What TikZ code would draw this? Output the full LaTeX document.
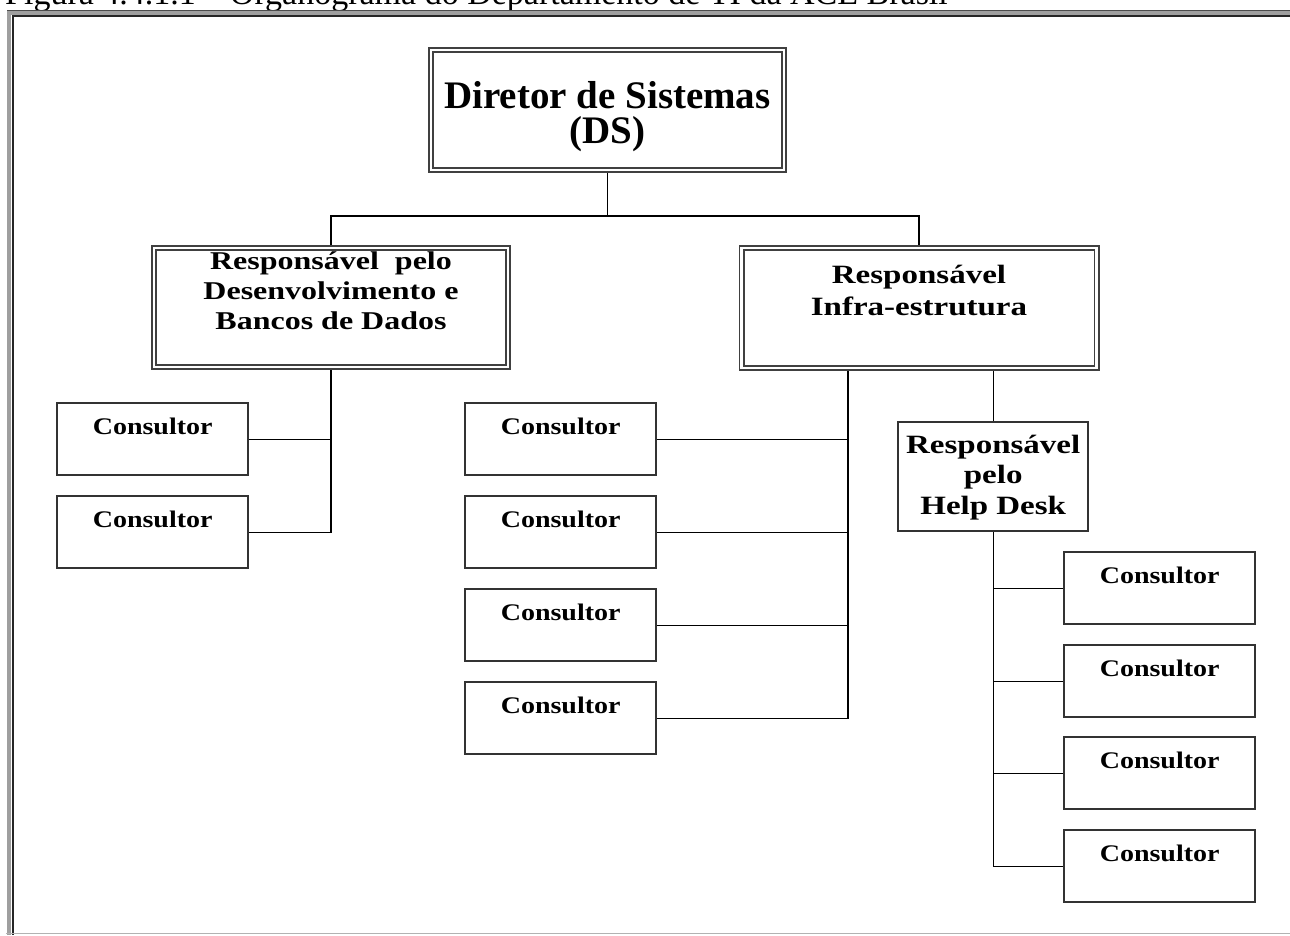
\documentclass[tikz,border=0pt]{standalone}
\usepackage{graphicx}
\usepackage{fontspec}
\setmainfont{Liberation Serif}

% lines of a box, squeezed a little in height
\newcommand{\boxlines}[2]{\scalebox{1}[#1]{\begin{tabular}[t]{@{}c@{}}#2\end{tabular}}}
\newcommand{\cons}{\scalebox{1}[0.85]{Consultor}}

\tikzset{
 topbox/.style={draw=black!75, double=white, double distance=2.4pt, line width=1.8pt,
   inner sep=0pt, outer sep=3pt, anchor=north west, minimum height=0pt},
 subbox/.style={draw=black!80, line width=2.4pt, inner sep=0pt, anchor=north west, minimum height=0pt},
 consbox/.style={subbox, minimum width=191pt, text height=31pt, text depth=41pt,
   font=\bfseries\fontsize{28}{30}\selectfont},
 link/.style={draw=black, line width=1.4pt}
}

\begin{document}
\begin{tikzpicture}[x=1pt,y=-1pt]
 \useasboundingbox (0,0) rectangle (1290,935);
 \clip (0,0) rectangle (1290,935);

 % page frame and title
 \node[anchor=base west, inner sep=0pt, font=\fontsize{34}{40}\selectfont] (title) at (5,4)
   {Figura 4.4.1.1 – Organograma do Departamento de TI da ACE Brasil};
 \draw [gray!75, line width=4pt] (8.5,935) -- (8.5,13) -- (1290,13);
 \draw [black!85, line width=1.3pt] (13,935) -- (13,16) -- (1290,16);
 \draw [black!70, line width=1pt] (1290,10.5) -- (6.5,10.5);
 \draw [gray!60, line width=1pt] (6,933.5) -- (1290,933.5);

 % heads
 \node[topbox, minimum width=353pt, text height=58pt, text depth=62pt,
   font=\bfseries\fontsize{39}{29}\selectfont] (ds) at (428,47)
   {\begin{tabular}[t]{@{}c@{}}Diretor de Sistemas\\(DS)\end{tabular}};
 \node[topbox, minimum width=354pt, text height=21pt, text depth=98pt,
   font=\bfseries\fontsize{32}{38}\selectfont] (dev) at (151,245)
   {\boxlines{0.8}{Responsável~ pelo\\Desenvolvimento e\\Bancos de Dados}};
 \node[topbox, minimum width=355pt, text height=35pt, text depth=85pt,
   font=\bfseries\fontsize{33}{40}\selectfont] (infra) at (738.5,245)
   {\boxlines{0.8}{Responsável\\Infra-estrutura}};
 \node[subbox, minimum width=190pt, text height=31pt, text depth=78pt,
   font=\bfseries\fontsize{33}{38}\selectfont] (help) at (897,421)
   {\boxlines{0.8}{Responsável\\pelo\\Help Desk}};

 % consultants
 \foreach \n/\y in {l1/402, l2/495}
   \node[consbox] (\n) at (56,\y) {\cons};
 \foreach \n/\y in {m1/402, m2/495, m3/588, m4/681}
   \node[consbox] (\n) at (464,\y) {\cons};
 \foreach \n/\y in {r1/551, r2/644, r3/736, r4/829}
   \node[consbox] (\n) at (1063,\y) {\cons};

 % links
 \draw [link] (ds.south) -- ++(0,43) coordinate (split);
 \draw [link] (dev.north) |- (split) -| (infra.north);

 \draw [link] (dev.south) |- (l2.east);
 \draw [link] (l1.east) -- (l1.east -| dev.south);

 \coordinate (ibus) at ([xshift=-71pt]infra.south);
 \draw [link] (ibus) |- (m4.east);
 \foreach \n in {m1,m2,m3}
   \draw [link] (\n.east) -- (\n.east -| ibus);

 \draw [link] (infra.south -| help.north) -- (help.north);
 \draw [link] (help.south) |- (r4.west);
 \foreach \n in {r1,r2,r3}
   \draw [link] (\n.west) -- (\n.west -| help.south);
\end{tikzpicture}
\end{document}
